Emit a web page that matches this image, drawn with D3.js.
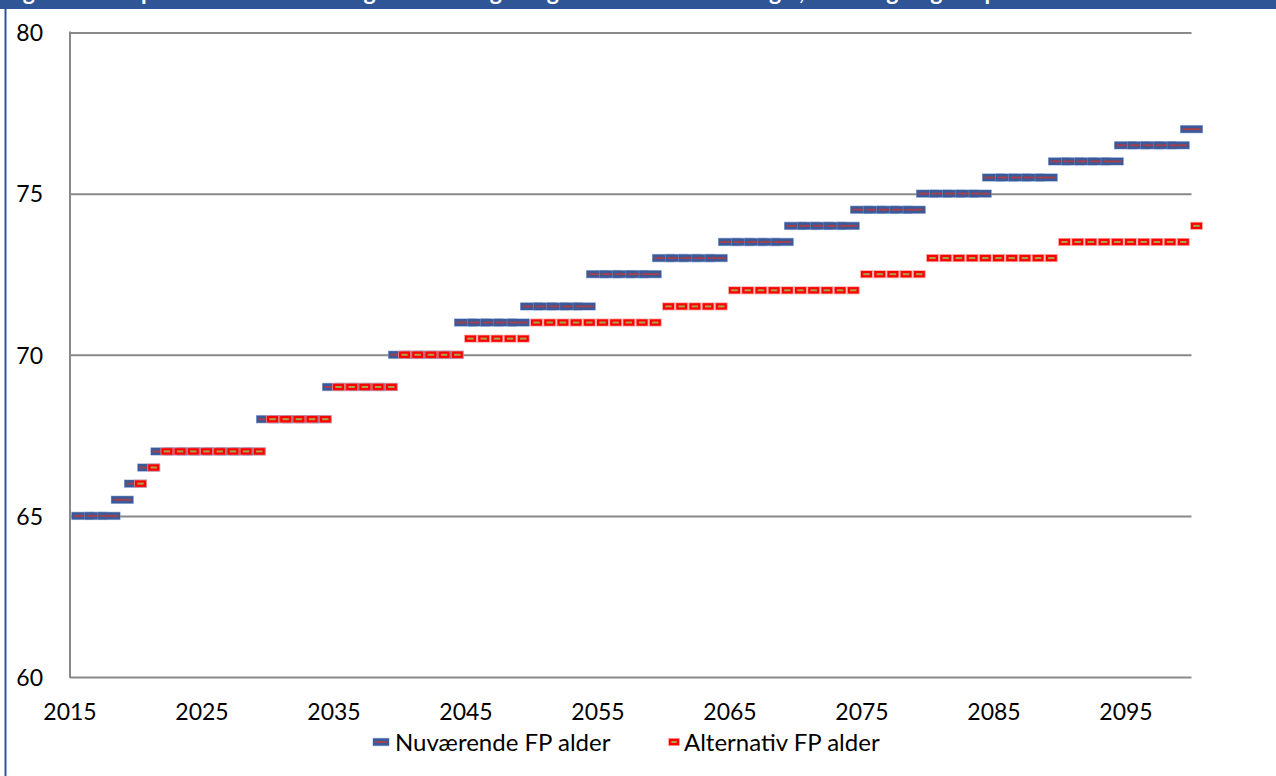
<!DOCTYPE html>
<html>
<head>
<meta charset="utf-8">
<script src="https://cdn.jsdelivr.net/npm/d3@7"></script>
<style>
  html, body { margin: 0; padding: 0; background: #ffffff; }
  svg { display: block; }
</style>
</head>
<body>
<svg id="chart" width="1276" height="776"></svg>
<script>
// ---------------- data ----------------
const years = [
  2015,2016,2017,2018,2019,2020,2021,2022,2023,2024,
  2025,2026,2027,2028,2029,2030,2031,2032,2033,2034,
  2035,2036,2037,2038,2039,2040,2041,2042,2043,2044,
  2045,2046,2047,2048,2049,2050,2051,2052,2053,2054,
  2055,2056,2057,2058,2059,2060,2061,2062,2063,2064,
  2065,2066,2067,2068,2069,2070,2071,2072,2073,2074,
  2075,2076,2077,2078,2079,2080,2081,2082,2083,2084,
  2085,2086,2087,2088,2089,2090,2091,2092,2093,2094,
  2095,2096,2097,2098,2099,2100
];
const currentAge = [
  null,65,65,65,65.5,66,66.5,67,67,67,
  67,67,67,67,67,68,68,68,68,68,
  69,69,69,69,69,70,70,70,70,70,
  71,71,71,71,71,71.5,71.5,71.5,71.5,71.5,
  72.5,72.5,72.5,72.5,72.5,73,73,73,73,73,
  73.5,73.5,73.5,73.5,73.5,74,74,74,74,74,
  74.5,74.5,74.5,74.5,74.5,75,75,75,75,75,
  75.5,75.5,75.5,75.5,75.5,76,76,76,76,76,
  76.5,76.5,76.5,76.5,76.5,77
];
const altAge = [
  null,null,null,null,null,66,66.5,67,67,67,
  67,67,67,67,67,68,68,68,68,68,
  69,69,69,69,69,70,70,70,70,70,
  70.5,70.5,70.5,70.5,70.5,71,71,71,71,71,
  71,71,71,71,71,71.5,71.5,71.5,71.5,71.5,
  72,72,72,72,72,72,72,72,72,72,
  72.5,72.5,72.5,72.5,72.5,73,73,73,73,73,
  73,73,73,73,73,73.5,73.5,73.5,73.5,73.5,
  73.5,73.5,73.5,73.5,73.5,74
];
const yTicks = [60, 65, 70, 75, 80];
const xTickYears = [2015, 2025, 2035, 2045, 2055, 2065, 2075, 2085, 2095];
const seriesNames = ["Nuværende FP alder", "Alternativ FP alder"];
const titleText = "Figur 2. Folkepensionsalderen med gældende regler og med en alternativ regel, hvor stigningen i pensionsalderen er halveret";

// ---------------- layout ----------------
const W = 1276, H = 776;
const plotLeft = 70, plotRight = 1191.5, plotTop = 32.5, plotBottom = 677;
const FONT = "Lato, 'Open Sans', sans-serif";
const svg = d3.select("#chart");

svg.append("rect").attr("width", W).attr("height", H).attr("fill", "#ffffff");

// title band (text cut off at top, as in the reference)
const clip = svg.append("defs").append("clipPath").attr("id", "titleclip");
clip.append("rect").attr("x", 0).attr("y", 0).attr("width", W).attr("height", 9);
svg.append("rect").attr("x", 0).attr("y", 0).attr("width", W).attr("height", 9).attr("fill", "#2F5597");
svg.append("text")
  .attr("clip-path", "url(#titleclip)")
  .attr("x", 4).attr("y", -0.5)
  .attr("fill", "#ffffff")
  .attr("font-family", FONT).attr("font-weight", "bold").attr("font-size", 23)
  .text(titleText);

// left frame border
svg.append("rect").attr("x", 4.5).attr("y", 0).attr("width", 2).attr("height", H).attr("fill", "#2F5597");

// scales
const x = d3.scalePoint().domain(years).range([69.5, 1191.5]);
const y = d3.scaleLinear().domain([60, 80]).range([plotBottom, plotTop]);

// gridlines + y labels
const yAxis = d3.axisLeft(y).tickValues(yTicks).tickSize(-(plotRight - plotLeft)).tickPadding(27).tickFormat(d3.format("d"));
const gy = svg.append("g").attr("transform", `translate(${plotLeft},0)`).call(yAxis);
gy.select(".domain").remove();
gy.selectAll(".tick line").attr("stroke", "#898989").attr("stroke-width", 2);
gy.selectAll(".tick text")
  .attr("font-family", FONT).attr("font-size", 23).attr("fill", "#000")
  .attr("dy", "0.36em");
// vertical axis line
svg.append("line")
  .attr("x1", plotLeft).attr("x2", plotLeft)
  .attr("y1", plotTop - 1).attr("y2", plotBottom + 1)
  .attr("stroke", "#898989").attr("stroke-width", 2);

// x labels
const xAxis = d3.axisBottom(x).tickValues(xTickYears).tickSize(0).tickPadding(0);
const gx = svg.append("g").attr("transform", `translate(0,${plotBottom})`).call(xAxis);
gx.select(".domain").remove();
gx.selectAll(".tick text")
  .attr("font-family", FONT).attr("font-size", 23).attr("fill", "#000")
  .attr("y", 43).attr("dy", 0);

// ---------------- markers ----------------
function blueMarker(g, w) {
  g.append("rect").attr("x", -w/2 - 0.5).attr("y", -4.2).attr("width", w + 1).attr("height", 8.4)
    .attr("fill", "#8fa6d4").attr("opacity", 0.7);
  g.append("rect").attr("x", -w/2).attr("y", -3.6).attr("width", w).attr("height", 7.2)
    .attr("fill", "#3A5A9B");
  g.append("rect").attr("x", -w/2 + 1.8).attr("y", -1).attr("width", w - 3.6).attr("height", 2)
    .attr("fill", "#A2404C");
}
function redMarker(g, w) {
  g.append("rect").attr("x", -w/2 - 1).attr("y", -4).attr("width", w + 2).attr("height", 8)
    .attr("fill", "#ff8a8a").attr("opacity", 0.75);
  g.append("rect").attr("x", -w/2).attr("y", -3.2).attr("width", w).attr("height", 6.4)
    .attr("fill", "#FF0000");
  g.append("rect").attr("x", -w/2 + 2.3).attr("y", -1).attr("width", w - 4.6).attr("height", 2)
    .attr("fill", "#A6A64C");
}

const altShift = 5;
const curData = years.map((yr, i) => ({ yr, v: currentAge[i] })).filter(d => d.v != null);
const altData = years.map((yr, i) => ({ yr, v: altAge[i] })).filter(d => d.v != null);

svg.append("g").selectAll("g").data(curData).join("g")
  .attr("transform", d => `translate(${x(d.yr)},${y(d.v)})`)
  .each(function() { blueMarker(d3.select(this), 22); });

svg.append("g").selectAll("g").data(altData).join("g")
  .attr("transform", d => `translate(${x(d.yr) + altShift},${y(d.v)})`)
  .each(function() { redMarker(d3.select(this), 11); });

// ---------------- legend ----------------
const legendY = 742;
const lg1 = svg.append("g").attr("transform", `translate(381,${legendY})`);
blueMarker(lg1, 16);
svg.append("text").attr("x", 395).attr("y", legendY).attr("dy", "0.36em")
  .attr("font-family", FONT).attr("font-size", 24).attr("fill", "#000")
  .text(seriesNames[0]);
const lg2 = svg.append("g").attr("transform", `translate(674,${legendY})`);
redMarker(lg2, 10);
svg.append("text").attr("x", 684).attr("y", legendY).attr("dy", "0.36em")
  .attr("font-family", FONT).attr("font-size", 24).attr("fill", "#000")
  .text(seriesNames[1]);
</script>
</body>
</html>
